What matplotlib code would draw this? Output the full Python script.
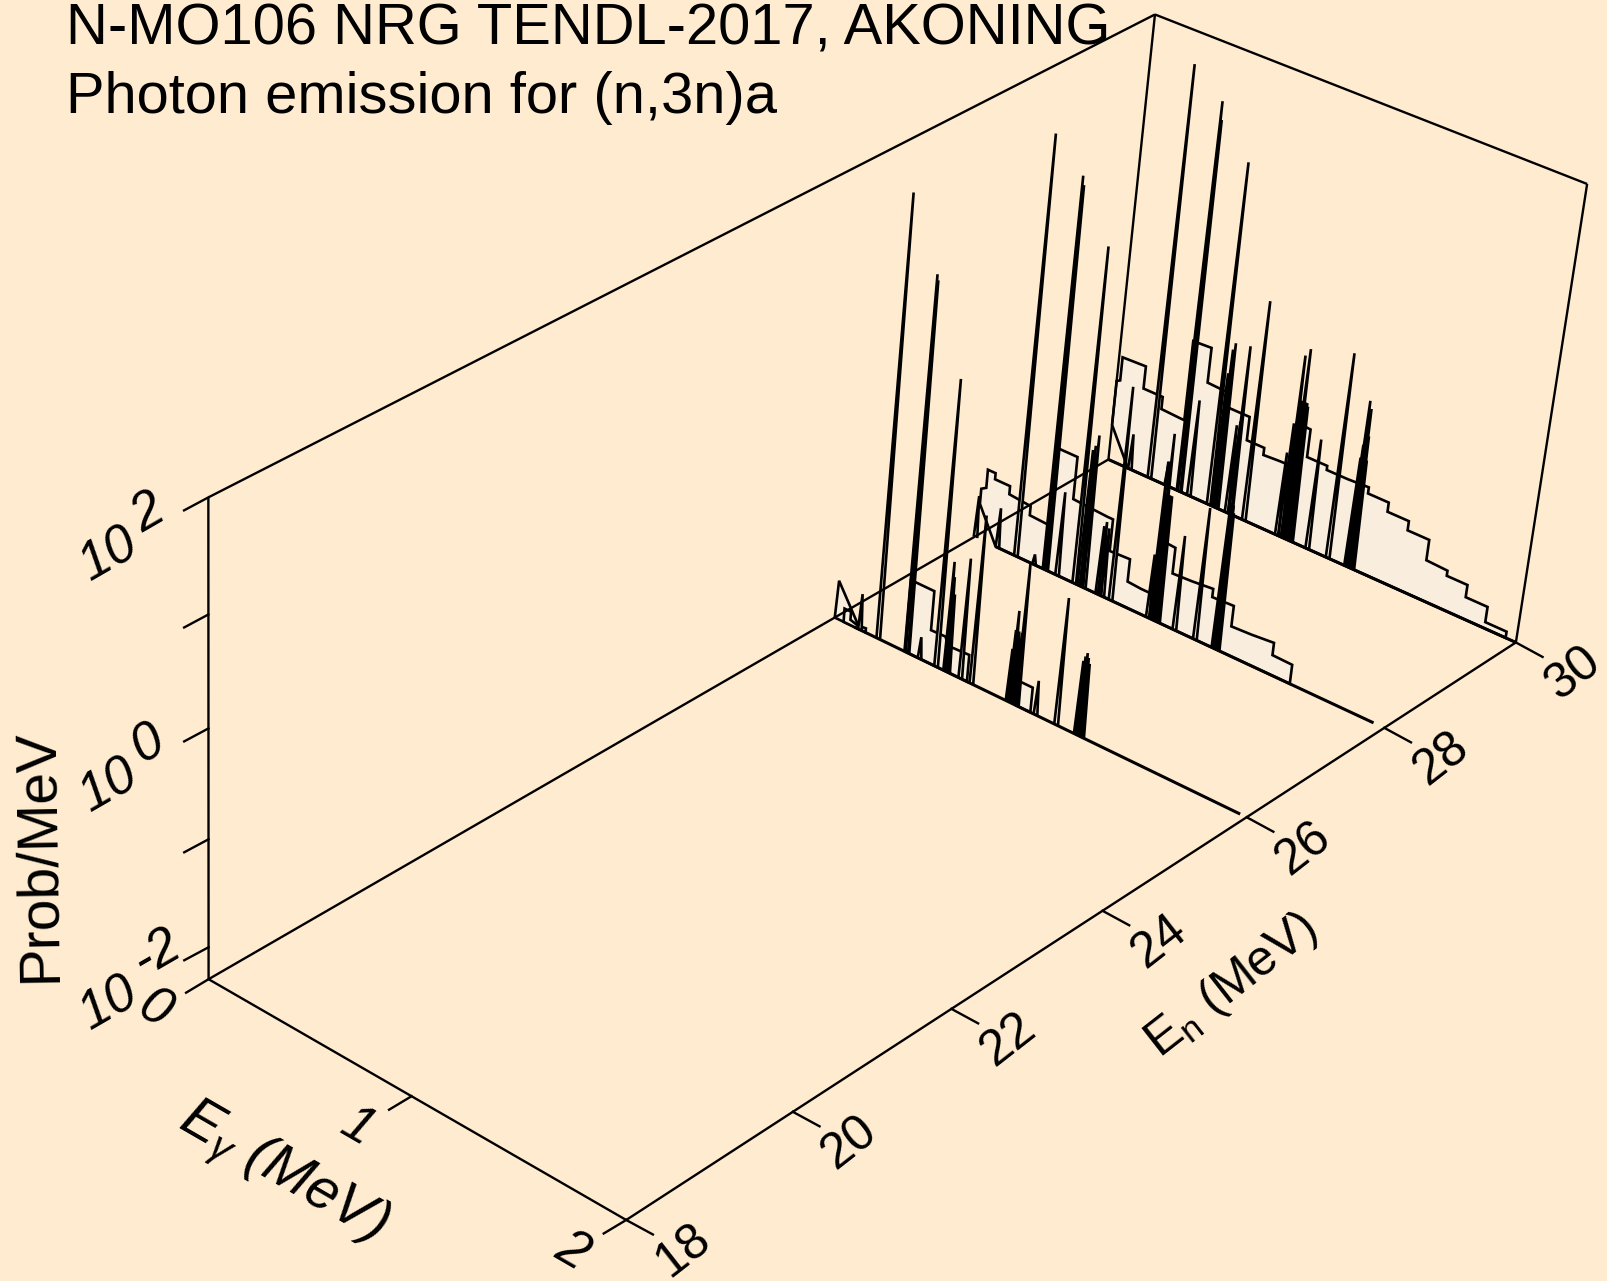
import matplotlib
matplotlib.use("Agg")
import matplotlib.pyplot as plt
import numpy as np

plt.rcParams['font.family'] = ['Liberation Sans', 'DejaVu Sans']
plt.rcParams['mathtext.fontset'] = 'custom'
plt.rcParams['mathtext.rm'] = 'Liberation Sans'
plt.rcParams['mathtext.it'] = 'Liberation Sans:italic'

BG = '#FFECD0'
FILL = '#F9EDDD'

# axis ranges (log10 of Prob/MeV on the vertical)
EG_MIN, EG_MAX = 0.0, 2.0
EN_MIN, EN_MAX = 18.0, 30.0
LOG_MIN, LOG_MAX = np.log10(0.005), 2.0
FL = LOG_MIN

en_ticks = [18, 20, 22, 24, 26, 28, 30]
eg_ticks = [0, 1, 2]
log_ticks = [-2, -1, 0, 1, 2]
log_labels = {-2: '-2', 0: '0', 2: '2'}

# --- spectra, En = 30 MeV ---
cont30_eg = [.10, 0, 0, .017, .017, .1345, .1345, .2316, .2316, .332, .3476, .3476, .438, .438,
             .54, .54, .655, .655, .741, .741, .824, .879, .879, .945, .945, 1.043, 1.043, 1.143,
             1.2455, 1.2455, 1.345, 1.345, 1.447, 1.447, 1.55, 1.55, 1.651, 1.651, 1.749, 1.749,
             1.852, 1.852, 1.952, 1.952]
cont30_z = [FL, -1.95, -1.51, -1.49, -1.26, -1.25, -1.47, -1.47, -1.59, -1.60, -1.60, -.82, -.81, -1.15,
            -1.16, -1.30, -1.30, -1.53, -1.53, -1.60, -1.59, -1.59, -1.16, -1.17, -1.44, -1.44, -1.48, -1.48,
            -1.47, -1.53, -1.53, -1.62, -1.62, -1.71, -1.71, -1.91, -1.92, -1.97, -1.97, -2.09,
            -2.09, -2.24, -2.24, FL]
peak30_eg = [.11, .21, .296, .358, .364, .41, .51, .53, .54, .55, .60, .615, .62, .686, .85, .865, .879,
             .885, .89, .895, .90, .905, .91, .915, .92, 1.0, 1.10, 1.19, 1.195, 1.2, 1.205, 1.21, 1.215, 1.22]
peak30_z = [-1.95, 1.70, -2.06, 1.47, 1.3, -1.35, 1.02, -.98, -.74, -.67, -1.43, -1.38, -.64, -.15, -1.48,
            -1.18, -.51, -.94, -.94, -.94, -.43, -.94, -.94, -.94, -.97, -1.22, -.30, -1.23, -1.1, -.67,
            -.9, -.74, -1.0, -1.23]

# --- spectra, En = 28 MeV ---
cont28_eg = [.108, .012, .012, .036, .036, .075, .075, .151, .151, .2595, .2595, .356, .367, .367, .46, .46,
             .631, .6575, .6575, .757, .757, .824, .896, .896, .962, .962, 1.055, 1.157, 1.157, 1.26, 1.26,
             1.357, 1.462, 1.462, 1.556, 1.556]
cont28_z = [FL, -1.96, -1.81, -1.78, -1.60, -1.60, -1.66, -1.66, -1.74, -1.76, -1.85, -1.86, -1.86, -1.10,
            -1.10, -1.51, -1.53, -1.53, -1.84, -1.83, -2.05, -2.06, -2.06, -1.52, -1.53, -1.78, -1.77,
            -1.75, -1.83, -1.82, -2.02, -2.01, -1.99, -2.11, -2.115, FL]
peak28_eg = [.005, .117, .211, .303, .356, .364, .419, .505, .53, .541, .553, .62, .631, .645, .686, .87,
             .885, .893, .90, .906, .91, .915, .92, 1.0, 1.10, 1.19, 1.195, 1.2, 1.205, 1.21]
peak28_z = [-1.89, -1.91, 1.73, -2.2, 1.46, 1.38, -1.48, .93, -.97, -.92, -.81, -1.63, -1.58, -1.63, -.23,
            -1.68, -.77, -1.07, -.49, -1.07, -1.07, -1.07, -1.07, -1.38, -1.02, -.97, -.9, -.87, -.9, -.97]

# --- spectra, En = 26 MeV (split, it falls below the floor in between) ---
cont26a_eg = [.13, .008, 0]
cont26a_z = [FL, -1.93, FL]
cont26b_eg = [.045, .045, .078, .078, .114, .157, .157]
cont26b_z = [FL, -2.17, -2.17, -2.25, -2.27, -2.26, FL]
cont26c_eg = [.356, .356, .472, .472, .5436, .56, .664, .664]
cont26c_z = [FL, -1.60, -1.60, -1.98, -1.975, -2.05, -2.04, FL]
cont26d_eg = [.905, .905, .975, .975]
cont26d_z = [FL, -2.06, -2.06, FL]
peak26_eg = [.128, .221, .362, .368, .4286, .511, .556, .563, .571, .631, .686, .864, .872, .879, .887, .894,
             .901, .909, 1.0, 1.10, 1.195, 1.203, 1.211, 1.218, 1.225]
peak26_z = [-1.95, 1.89, 1.27, 1.22, -2.09, .44, -1.24, -1.38, -1.54, -1.14, -.68, -1.79, -1.6, -1.41, -1.6,
            -1.67, -1.6, -.92, -1.97, -1.08, -1.59, -1.54, -1.50, -1.54, -1.59]

# where the corners and a few axis marks of the box sit on the 1607x1281 canvas
calib_uvw = np.array([[0, 0, 0], [1, 0, 0], [0, 1, 0], [1, 1, 0], [0, 0, 1], [0, 1, 1], [1, 1, 1],
                      [1, .5, 0], [.5, 0, 0], [0, 8 / 12, 0], [0, 10 / 12, 0], [1, 8 / 12, 0], [1, 10 / 12, 0]])
calib_xy = np.array([[208.3, 979.3], [626.7, 1221.7], [1112, 461], [1516.7, 643.3], [209, 497],
                     [1153, 14.3], [1588.6, 184.5], [1105, 910], [412, 1096.6], [833, 616], [974, 537],
                     [1242, 815], [1383.6, 727.7]])


def fit_camera(uvw, xy):
    # plain DLT, solves the 3x4 projection with the last term fixed to 1
    rows, rhs = [], []
    for (u, v, w), (x, y) in zip(uvw, xy):
        rows.append([u, v, w, 1, 0, 0, 0, 0, -x * u, -x * v, -x * w])
        rhs.append(x)
        rows.append([0, 0, 0, 0, u, v, w, 1, -y * u, -y * v, -y * w])
        rhs.append(y)
    p = np.linalg.lstsq(np.array(rows, float), np.array(rhs, float), rcond=None)[0]
    return np.append(p, 1.0).reshape(3, 4)


CAM = fit_camera(calib_uvw, calib_xy)


def project(eg, en, logp):
    eg, en, logp = np.broadcast_arrays(np.asarray(eg, float), np.asarray(en, float), np.asarray(logp, float))
    u = (eg - EG_MIN) / (EG_MAX - EG_MIN)
    v = (en - EN_MIN) / (EN_MAX - EN_MIN)
    w = (logp - LOG_MIN) / (LOG_MAX - LOG_MIN)
    h = np.stack([u, v, w, np.ones_like(u)])
    q = CAM @ h
    return q[0] / q[2], q[1] / q[2]


fig = plt.figure(figsize=(16.07, 12.81), dpi=100, facecolor=BG)
ax = fig.add_axes([0, 0, 1, 1])
ax.set_xlim(0, 1607)
ax.set_ylim(1281, 0)
ax.axis('off')

LW_BOX = 1.7
LW = 1.9


def line3(eg, en, logp, lw=LW_BOX):
    x, y = project(eg, en, logp)
    ax.plot(x, y, color='k', lw=lw, solid_capstyle='butt', solid_joinstyle='miter')


# --- box ---
line3([0, 0], 18, [LOG_MIN, LOG_MAX])
line3([0, 0], 30, [LOG_MIN, LOG_MAX])
line3([2, 2], 30, [LOG_MIN, LOG_MAX])
line3(0, [18, 30], LOG_MAX)
line3([0, 2], 30, LOG_MAX)
line3([0, 2], 18, LOG_MIN)
line3(2, [18, 30], LOG_MIN)
line3(0, [18, 30], LOG_MIN)
line3([0, 2], 30, LOG_MIN)


def draw_plane(en, segments, peak_eg, peak_z, base_from, base_to):
    for seg_eg, seg_z in segments:
        x, y = project(seg_eg, en, seg_z)
        ax.fill(x, y, facecolor=FILL, edgecolor='k', lw=LW, joinstyle='miter')
    half = 0.009
    # fills first, then outlines, so that close lines pile up to solid black
    for eg, z in zip(peak_eg, peak_z):
        x, y = project([eg - half, eg, eg + half], en, [LOG_MIN, z, LOG_MIN])
        ax.fill(x, y, facecolor=FILL, edgecolor='none')
    for eg, z in zip(peak_eg, peak_z):
        x, y = project([eg - half, eg, eg + half], en, [LOG_MIN, z, LOG_MIN])
        ax.plot(x, y, color='k', lw=LW, solid_joinstyle='bevel', solid_capstyle='butt')
    line3([base_from, base_to], en, LOG_MIN, lw=2.2)


draw_plane(30, [(cont30_eg, cont30_z)], peak30_eg, peak30_z, 0.0, 2.0)
draw_plane(28, [(cont28_eg, cont28_z)], peak28_eg, peak28_z, 0.108, 1.95)
draw_plane(26, [(cont26a_eg, cont26a_z), (cont26b_eg, cont26b_z), (cont26c_eg, cont26c_z),
                (cont26d_eg, cont26d_z)], peak26_eg, peak26_z, 0.10, 1.97)

# --- ticks ---
for en in en_ticks:
    x, y = project(2, en, LOG_MIN)
    ax.plot([x, x + 26.7], [y, y + 14.5], color='k', lw=LW_BOX)
    ax.text(x + 57, y + 31, str(en), fontsize=36, rotation=38, ha='center', va='center')
for eg in eg_ticks:
    x, y = project(eg, 18, LOG_MIN)
    ax.plot([x, x - 22.5], [y, y + 13.5], color='k', lw=LW_BOX)
    ax.text(x - 54, y + 31, str(eg), fontsize=38, rotation=-30, style='italic', ha='center', va='center')
for lg in log_ticks:
    x, y = project(0, 18, lg)
    ax.plot([x, x - 24.3], [y, y + 13], color='k', lw=LW_BOX)
    if lg in log_labels:
        ax.text(x - 100, y + 57, '10', fontsize=38, rotation=30, style='italic', ha='center', va='center')
        dx, dy = (-52, 6) if lg < 0 else (-60, 16)
        ax.text(x + dx, y + dy, log_labels[lg], fontsize=38, rotation=30, style='italic', ha='center', va='center')

# --- labels ---
ax.text(66, 44, 'N-MO106 NRG TENDL-2017, AKONING', fontsize=41.7, ha='left', va='baseline')
ax.text(66, 113, 'Photon emission for (n,3n)a', fontsize=41.7, ha='left', va='baseline')
ax.text(39, 856, 'Prob/MeV', fontsize=41, rotation=91, ha='center', va='center')
ax.text(282, 1173, r'E$_{\gamma}$ (MeV)', fontsize=41, rotation=-30, style='italic', ha='center', va='center')
ax.text(1232, 986, r'E$_{\mathrm{n}}$ (MeV)', fontsize=36, rotation=38, ha='center', va='center')

fig.savefig('out.png', dpi=100, facecolor=BG)
